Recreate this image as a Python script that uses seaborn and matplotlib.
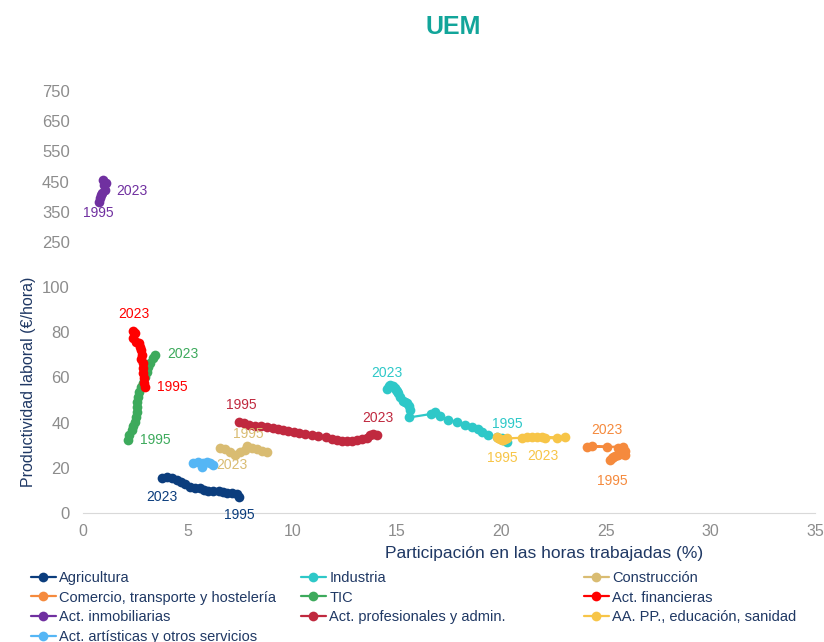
import numpy as np
import pandas as pd
import matplotlib
matplotlib.use("Agg")
import matplotlib.pyplot as plt
import seaborn as sns

# sectores (1995 -> 2023)
agri_x = [7.48, 7.35, 7.11, 6.90, 6.71, 6.48, 6.23, 6.00, 5.79, 5.60, 5.36, 5.12, 4.88, 4.67, 4.48, 4.24, 4.00, 3.76]
agri_y = [7.2, 8.4, 8.7, 9.0, 9.4, 9.6, 9.7, 9.7, 10.2, 11.2, 10.9, 11.6, 12.8, 13.7, 14.6, 15.3, 15.8, 15.6]

ind_x = [20.26, 20.10, 20.02, 19.78, 19.35, 19.07, 18.91, 18.59, 18.27, 17.87, 17.47, 17.07, 16.83, 16.63,
         15.61, 15.64, 15.61, 15.48, 15.40, 15.32, 15.16, 15.08, 15.02, 14.97, 14.90, 14.84, 14.70, 14.65, 14.52]
ind_y = [31.5, 32.2, 33.0, 33.5, 34.5, 36.0, 37.2, 38.2, 38.9, 40.4, 41.2, 42.9, 44.6, 43.8,
         42.3, 45.6, 47.3, 48.5, 49.2, 49.7, 51.2, 53.0, 53.8, 54.4, 55.5, 56.2, 56.5, 56.2, 54.7]

cons_x = [8.78, 8.55, 8.31, 8.07, 7.83, 7.75, 7.51, 7.27, 7.03, 6.79, 6.55]
cons_y = [26.8, 27.6, 28.2, 28.6, 29.6, 27.9, 27.1, 25.7, 27.1, 28.2, 28.6]

com_x = [25.20, 25.28, 25.36, 25.44, 25.56, 25.68, 25.80, 25.92, 25.92, 25.84, 25.60, 25.84, 24.09, 24.33, 25.04]
com_y = [23.5, 24.2, 24.8, 25.4, 25.8, 26.4, 26.0, 25.7, 27.4, 28.4, 28.6, 29.3, 29.3, 29.6, 29.3]

tic_x = [2.17, 2.21, 2.33, 2.41, 2.49, 2.53, 2.57, 2.60, 2.60, 2.65, 2.69, 2.76, 2.85, 2.97, 3.05, 3.12, 3.20, 3.33, 3.44]
tic_y = [32.3, 34.5, 36.7, 38.5, 40.4, 42.6, 44.8, 47.0, 49.2, 51.5, 53.7, 55.6, 57.7, 60.3, 62.5, 64.7, 66.5, 68.5, 69.9]

fin_x = [2.97, 2.93, 2.92, 2.88, 2.88, 2.85, 2.76, 2.80, 2.76, 2.73, 2.69, 2.53, 2.41, 2.49, 2.41]
fin_y = [55.9, 57.4, 59.6, 61.8, 64.0, 66.2, 68.0, 69.9, 72.1, 73.6, 75.1, 75.8, 77.3, 79.5, 80.7]

inm_x = [0.78, 0.81, 0.89, 0.84, 1.05, 1.00, 1.08, 0.97]
inm_y = [383, 394, 411, 405, 422, 438, 445, 455]

prof_x = [7.48, 7.70, 7.95, 8.23, 8.50, 8.78, 9.07, 9.34, 9.58, 9.82, 10.09, 10.35, 10.62, 10.94, 11.25, 11.62,
          11.89, 12.13, 12.37, 12.61, 12.85, 13.09, 13.33, 13.57, 13.73, 13.89, 14.08]
prof_y = [40.4, 39.7, 39.1, 38.6, 38.4, 37.9, 37.8, 37.3, 36.9, 36.4, 35.8, 35.3, 34.8, 34.7, 34.2, 33.5,
          32.7, 32.3, 31.9, 31.9, 32.0, 32.3, 32.6, 33.0, 34.5, 35.0, 34.7]

aapp_x = [19.78, 19.86, 19.94, 20.02, 20.10, 20.18, 20.26, 20.98, 21.22, 21.46, 21.70, 23.05, 22.65, 22.09, 21.94]
aapp_y = [33.8, 33.2, 32.7, 32.5, 32.3, 32.6, 33.0, 33.3, 33.5, 33.6, 33.6, 33.5, 33.0, 33.3, 33.5]

art_x = [6.23, 6.07, 5.91, 5.75, 5.68, 5.51, 5.27]
art_y = [21.2, 22.0, 22.7, 22.3, 20.5, 22.4, 22.0]

sectors = ["Agricultura", "Industria", "Construcción", "Comercio, transporte y hostelería", "TIC",
           "Act. financieras", "Act. inmobiliarias", "Act. profesionales y admin.",
           "AA. PP., educación, sanidad", "Act. artísticas y otros servicios"]
xs = [agri_x, ind_x, cons_x, com_x, tic_x, fin_x, inm_x, prof_x, aapp_x, art_x]
ys = [agri_y, ind_y, cons_y, com_y, tic_y, fin_y, inm_y, prof_y, aapp_y, art_y]
colors = ["#0b3d7d", "#2ec8c8", "#d9bc72", "#f58a3d", "#3daa5c", "#ff0000", "#7030a0", "#c0293f",
          "#f7c548", "#55b6f5"]

# etiquetas de año: desplazamiento en píxeles respecto al extremo
label_offsets = {
    "Agricultura": ((0, -18), (0, -19)),
    "Industria": ((1, 18), (0, 16)),
    "Construcción": ((-18, 18), (12, -17)),
    "Comercio, transporte y hostelería": ((2, -21), (0, 17)),
    "TIC": ((27, 0), (28, 1)),
    "Act. financieras": ((27, 0), (0, 17)),
    "Act. inmobiliarias": ((-1, -11), (29, -11)),
    "Act. profesionales y admin.": ((2, 17), (0, 17)),
    "AA. PP., educación, sanidad": ((6, -21), (1, -19)),
}

yticks = [0, 20, 40, 60, 80, 100, 250, 350, 450, 550, 650, 750]


def fwd(v):
    v = np.asarray(v, dtype=float)
    return np.where(v <= 100, v, np.where(v <= 250, 100 + (v - 100) * 20 / 150, 120 + (v - 250) / 7.5))


def inv(u):
    u = np.asarray(u, dtype=float)
    return np.where(u <= 100, u, np.where(u <= 120, 100 + (u - 100) * 150 / 20, 250 + (u - 120) * 7.5))


sns.set_style("white")
plt.rcParams["font.family"] = ["Liberation Sans", "DejaVu Sans"]
navy = "#1f3864"
grey = "#8c8c8c"

fig = plt.figure(figsize=(8.24, 6.42), dpi=100)
ax = fig.add_axes([83 / 824, 1 - 513 / 642, 732 / 824, 429.4 / 642])
ax.set_yscale("function", functions=(fwd, inv))

handles = {}
for name, x, y, c in zip(sectors, xs, ys, colors):
    df = pd.DataFrame({"x": x, "y": y})
    sns.lineplot(data=df, x="x", y="y", sort=False, estimator=None, ax=ax, color=c,
                 marker="o", markersize=7, markeredgewidth=0, linewidth=1.6, label=name, legend=False)
    handles[name] = ax.lines[-1]
    if name in label_offsets:
        off95, off23 = label_offsets[name]
        ax.annotate("1995", xy=(x[0], y[0]), xytext=off95, textcoords="offset pixels",
                    ha="center", va="center", color=c, fontsize=10, annotation_clip=False)
        ax.annotate("2023", xy=(x[-1], y[-1]), xytext=off23, textcoords="offset pixels",
                    ha="center", va="center", color=c, fontsize=10, annotation_clip=False)

ax.set_xlim(0, 35)
ax.set_ylim(0, 775)
ax.set_xticks(range(0, 36, 5))
ax.set_yticks(yticks)
ax.set_yticklabels([str(t) for t in yticks])
ax.minorticks_off()

for s in ["top", "right", "left"]:
    ax.spines[s].set_visible(False)
ax.spines["bottom"].set_color("#d9d9d9")
ax.tick_params(axis="y", length=0, pad=9.5, labelsize=12, labelcolor=grey)
ax.tick_params(axis="x", length=5, direction="out", color="#d9d9d9", pad=3, labelsize=11.5, labelcolor=grey)

ax.set_xlabel("Participación en las horas trabajadas (%)", color=navy, fontsize=12.5)
ax.xaxis.set_label_coords(0.63, -0.078)
ax.set_ylabel("Productividad laboral (€/hora)", color=navy, fontsize=11.5)
ax.yaxis.set_label_coords(-0.064, 0.305)

fig.text(453 / 824, 1 - 27 / 642, "UEM", ha="center", va="center", fontsize=18, fontweight="bold",
         color="#12a59a")

cols = [
    (["Agricultura", "Comercio, transporte y hostelería", "Act. inmobiliarias",
      "Act. artísticas y otros servicios"], 31 / 824),
    (["Industria", "TIC", "Act. profesionales y admin."], 301 / 824),
    (["Construcción", "Act. financieras", "AA. PP., educación, sanidad"], 584 / 824),
]
for names, x0 in cols:
    leg = fig.legend([handles[n] for n in names], names, loc="upper left", bbox_to_anchor=(x0, 1 - 571 / 642),
                     frameon=False, borderpad=0, borderaxespad=0, handlelength=1.7, handletextpad=0.25,
                     labelspacing=0.38, prop={"size": 10.5})
    for t in leg.get_texts():
        t.set_color(navy)

fig.savefig("out.png", dpi=100)
